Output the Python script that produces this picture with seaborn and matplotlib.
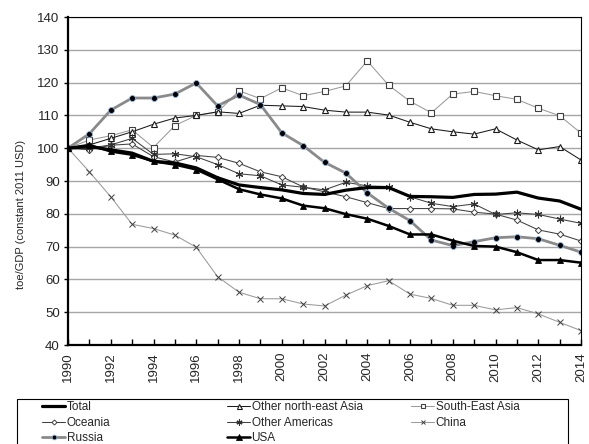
import matplotlib
matplotlib.use("Agg")
import matplotlib.pyplot as plt
from matplotlib.patches import Rectangle
import seaborn as sns
import pandas as pd
import numpy as np

years = list(range(1990, 2015))

total = [100, 100.5, 99.5, 98.5, 96, 95.5, 94, 91, 88.8, 88, 87.3, 86.2, 85.9, 87.2, 88, 88,
         85.3, 85.2, 85, 85.9, 86, 86.6, 84.8, 83.9, 81.4]
other_ne_asia = [100, 101, 103, 105, 107.3, 109.2, 110, 111.1, 110.6, 113.1, 112.9, 112.7, 111.6,
                 111, 111, 110.1, 107.9, 105.9, 105, 104.3, 105.9, 102.5, 99.5, 100.5, 96.4]
south_east_asia = [100, 102.5, 103.8, 105.6, 100.2, 106.9, 110, 111, 117.5, 115.1, 118.4, 116,
                   117.3, 119, 126.6, 119.2, 114.3, 110.8, 116.5, 117.3, 116, 114.9, 112.2, 109.9, 104.6]
oceania = [100, 99.5, 100.9, 101.3, 97.4, 95.8, 97.8, 97.2, 95.4, 92.8, 91.3, 88.2, 86.7, 85.2,
           83.4, 81.6, 81.6, 81.6, 81.5, 80.5, 79.9, 78.1, 75.1, 73.8, 71.7]
other_americas = [100, 100, 101, 103, 98.1, 98.3, 97.4, 95, 92.2, 91.6, 88.8, 88.1, 87.3, 89.6,
                  88.5, 88.3, 85.2, 83.2, 82.2, 83, 79.8, 80.3, 79.8, 78.4, 77.1]
china = [100, 92.8, 85.2, 76.8, 75.5, 73.5, 69.8, 60.8, 56.1, 54.1, 54.1, 52.5, 51.9, 55.2, 58.1,
         59.6, 55.5, 54.2, 52.1, 52.1, 50.7, 51.4, 49.5, 46.9, 44.4]
russia = [100, 104.4, 111.6, 115.3, 115.3, 116.5, 119.9, 112.9, 116.2, 113.3, 104.7, 100.8, 95.7,
          92.4, 86.4, 81.7, 77.9, 72, 70.3, 71.5, 72.7, 73, 72.4, 70.4, 68.3]
usa = [100, 101, 99, 98, 96, 95, 93.5, 90.5, 87.5, 85.9, 84.7, 82.5, 81.7, 79.9, 78.5, 76.3,
       73.7, 73.7, 71.8, 70.2, 70, 68.3, 65.9, 65.9, 65.1]

series_names = ["Total", "Other north-east Asia", "South-East Asia", "Oceania",
                "Other Americas", "China", "Russia", "USA"]
series_vals = [total, other_ne_asia, south_east_asia, oceania, other_americas, china, russia, usa]

df = pd.DataFrame({
    "year": np.tile(years, len(series_names)),
    "value": np.concatenate(series_vals),
    "series": np.repeat(series_names, len(years)),
})

sns.set_style("white")
plt.rcParams["font.family"] = ["Liberation Sans", "DejaVu Sans"]

styles = {
    "Total": dict(color="black", lw=2.3, marker=None),
    "Other north-east Asia": dict(color="#1a1a1a", lw=0.75, marker="^", mfc="white", mec="#1a1a1a", ms=4.5, mew=0.8),
    "South-East Asia": dict(color="#9a9a9a", lw=0.75, marker="s", mfc="white", mec="#404040", ms=4.2, mew=0.8),
    "Oceania": dict(color="#404040", lw=0.75, marker="D", mfc="white", mec="#404040", ms=3.2, mew=0.7),
    "Other Americas": dict(color="#404040", lw=0.75, marker=(6, 2, 0), mfc="none", mec="#303030", ms=5.5, mew=0.8),
    "China": dict(color="#9a9a9a", lw=0.75, marker="x", mfc="none", mec="#404040", ms=3.8, mew=0.7),
    "Russia": dict(color="#8a8a8a", lw=2.0, marker="o", mfc="black", mec="#8db3e2", ms=4.3, mew=0.6),
    "USA": dict(color="black", lw=1.8, marker="^", mfc="black", mec="black", ms=5.0, mew=0.6),
}

fig = plt.figure(figsize=(5.89, 4.44), dpi=100)
ax = fig.add_axes([68 / 589, 1 - 345 / 444, (581 - 68) / 589, (345 - 17) / 444])

draw_order = ["China", "South-East Asia", "Other north-east Asia", "Oceania", "Other Americas",
              "Russia", "Total", "USA"]
handles = {}
for name in draw_order:
    st = styles[name]
    sub = df[df["series"] == name]
    sns.lineplot(data=sub, x="year", y="value", ax=ax, color=st["color"], linewidth=st["lw"],
                 marker=st["marker"],
                 markerfacecolor=st.get("mfc", "black"), markeredgecolor=st.get("mec", "black"),
                 markersize=st.get("ms", 0), markeredgewidth=st.get("mew", 0), label=name,
                 legend=False)
    handles[name] = ax.lines[-1]

ax.set_xlim(1990, 2014)
ax.set_ylim(40, 140)
ax.set_yticks(range(40, 141, 10))
ax.set_xticks(years, minor=True)
ax.set_xticks(range(1990, 2015, 2))
ax.set_xticklabels([str(y) for y in range(1990, 2015, 2)], rotation=90, fontsize=9.5)
ax.tick_params(axis="y", labelsize=9.5, length=3, width=1, direction="out", color="black", left=True, pad=3)
ax.tick_params(axis="x", which="both", direction="in", length=4, width=1, color="black", bottom=True, pad=5)
ax.yaxis.grid(True, color="#a6a6a6", lw=1)
ax.xaxis.grid(False)
ax.set_axisbelow(True)
ax.set_xlabel("")
ax.set_ylabel("")
fig.text(21 / 589, 1 - 214 / 444, "toe/GDP (constant 2011 USD)", rotation=90, fontsize=8,
         ha="center", va="center")
for s in ["left", "bottom"]:
    ax.spines[s].set_color("black")
    ax.spines[s].set_linewidth(1.6)
for s in ["top", "right"]:
    ax.spines[s].set_color("black")
    ax.spines[s].set_linewidth(0.8)
    ax.spines[s].set_visible(True)

# legend frame
fig.add_artist(Rectangle((17 / 589, -0.02), (568 - 17) / 589, 0.02 + (444 - 399) / 444,
                         transform=fig.transFigure, fill=False, edgecolor="black", lw=0.8))

columns = [["Total", "Oceania", "Russia"],
           ["Other north-east Asia", "Other Americas", "USA"],
           ["South-East Asia", "China"]]
col_x = [40, 225, 409]
for names, x0 in zip(columns, col_x):
    lg = fig.legend([handles[n] for n in names], names, loc="upper left",
                    bbox_to_anchor=(x0 / 589, 1 - 399 / 444), frameon=False, fontsize=8.5,
                    handlelength=1.9, handletextpad=0.15, labelspacing=0.28, borderpad=0.2,
                    borderaxespad=0, markerscale=0.8)

fig.savefig("out.png", dpi=100)
